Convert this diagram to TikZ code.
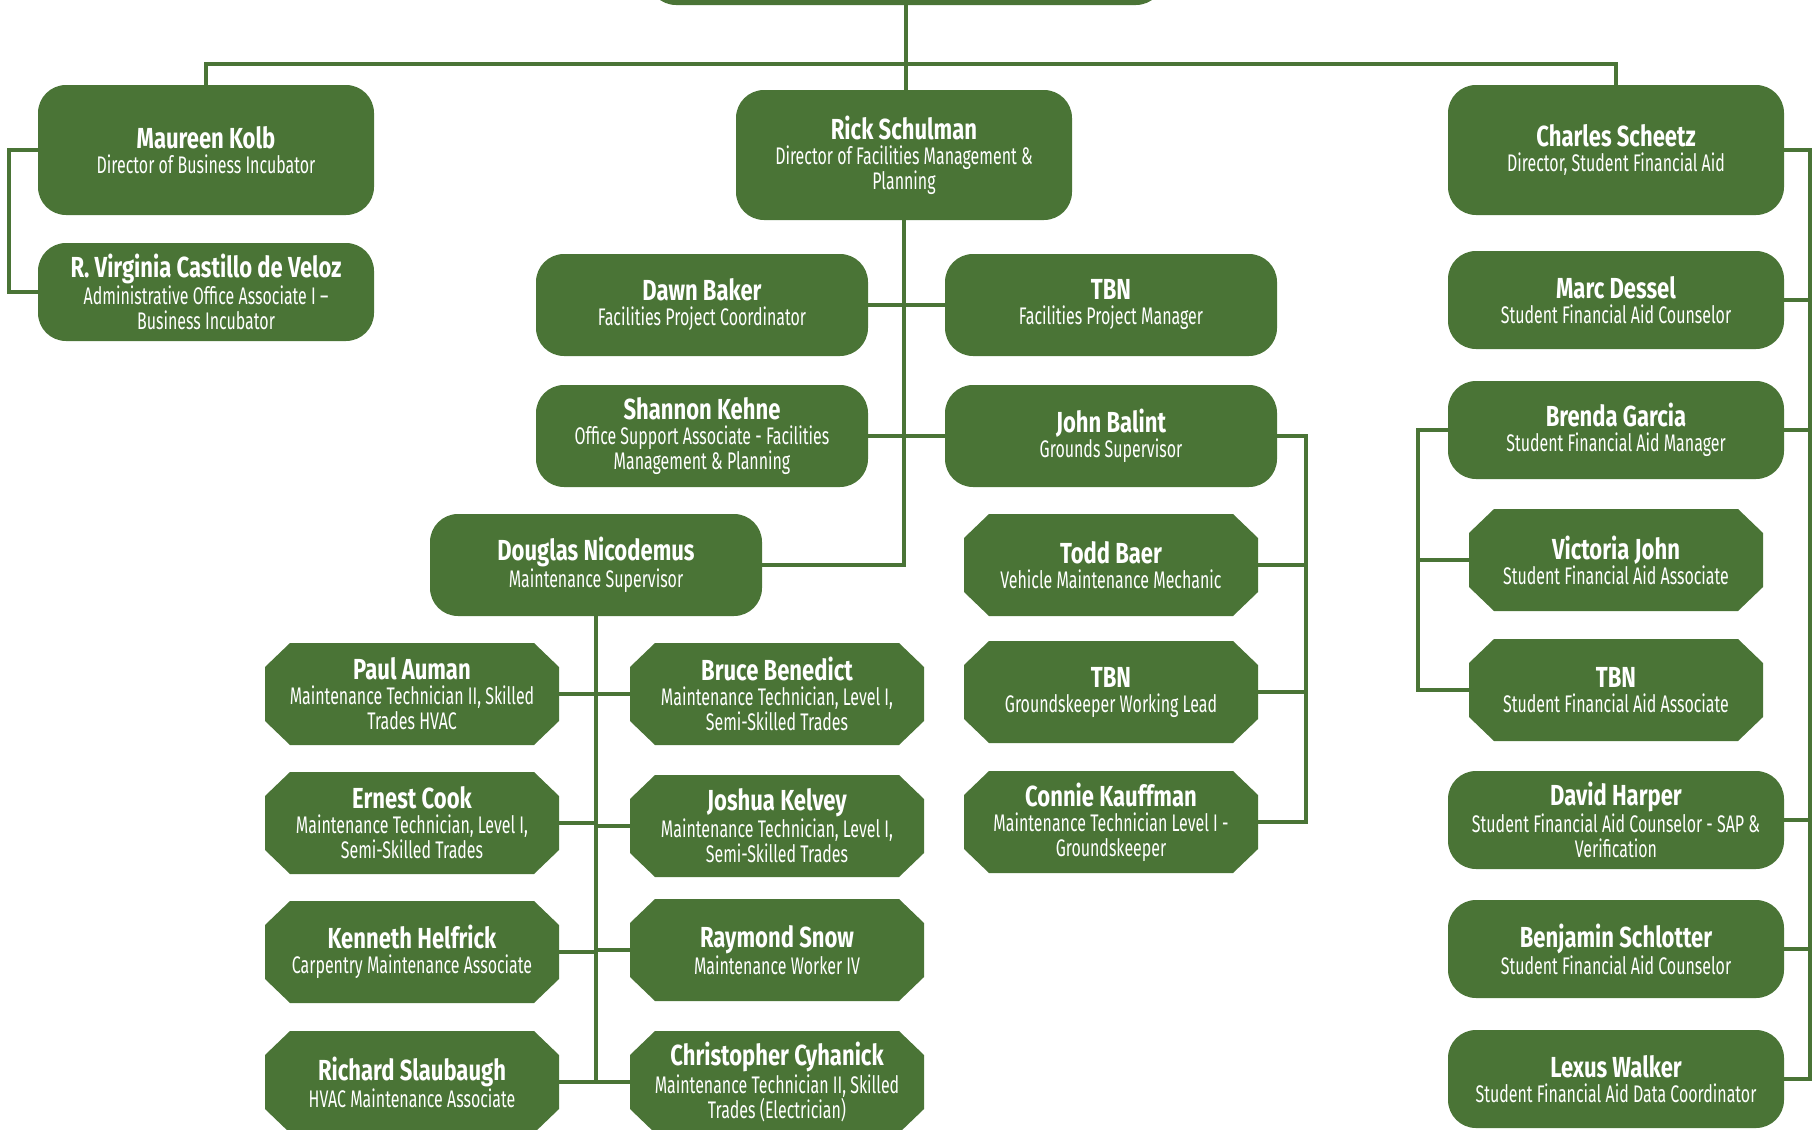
\documentclass[tikz,border=0pt]{standalone}
\usepackage{fontspec}
\setmainfont{Fira Sans}[FakeStretch=0.665]
\newfontfamily\namefont{Fira Sans}[FakeStretch=0.76]
\definecolor{leaf}{RGB}{74,116,54}
\newcommand{\nm}{\namefont\fontsize{14.5}{16}\selectfont\bfseries}
\tikzset{
  card/.style={fill=leaf, text=white, align=center, inner sep=2pt, minimum width=168pt, minimum height=50pt, font=\fontsize{12}{12.5}\selectfont},
  roundcard/.style={card, rounded corners=14pt},
  cutcard/.style={card, fill=none, minimum width=147pt, minimum height=51pt,
    path picture={\fill[leaf] ([xshift=12.5pt]path picture bounding box.north west) -- ([xshift=-12.5pt]path picture bounding box.north east) -- ([yshift=-12pt]path picture bounding box.north east) -- ([yshift=12pt]path picture bounding box.south east) -- ([xshift=-12.5pt]path picture bounding box.south east) -- ([xshift=12.5pt]path picture bounding box.south west) -- ([yshift=12pt]path picture bounding box.south west) -- ([yshift=-12pt]path picture bounding box.north west) -- cycle;}},
  link/.style={draw=leaf, line width=2pt}
}
\begin{document}
\begin{tikzpicture}[x=0.5pt, y=-0.5pt]
\useasboundingbox (0,0) rectangle (1816,1130);
\node[roundcard, minimum width=258pt] (top) at (906,-45) {};
\node[roundcard, minimum height=65pt] (maureen) at (206,150) {{\nm Maureen Kolb}\\ Director of Business Incubator};
\node[roundcard, minimum height=65pt] (rick) at (904,155) {{\nm Rick Schulman}\\ Director of Facilities Management \&\\ Planning};
\node[roundcard, minimum height=65pt] (charles) at (1616,150) {{\nm Charles Scheetz}\\ Director, Student Financial Aid};
\node[roundcard, minimum height=49pt] (virginia) at (206,292) {{\nm R. Virginia Castillo de Veloz}\\ Administrative Office Associate I --\\ Business Incubator};
\node[roundcard, minimum width=166pt, minimum height=51pt] (dawn) at (702,305) {{\nm Dawn Baker}\\ Facilities Project Coordinator};
\node[roundcard, minimum width=166pt, minimum height=51pt] (tbnfpm) at (1111,305) {{\nm TBN}\\ Facilities Project Manager};
\node[roundcard, minimum width=166pt, minimum height=51pt] (shannon) at (702,436) {{\nm Shannon Kehne}\\ Office Support Associate - Facilities\\ Management \& Planning};
\node[roundcard, minimum width=166pt, minimum height=51pt] (john) at (1111,436) {{\nm John Balint}\\ Grounds Supervisor};
\node[roundcard, minimum height=49pt] (marc) at (1616,300) {{\nm Marc Dessel}\\ Student Financial Aid Counselor};
\node[roundcard, minimum height=49pt] (brenda) at (1616,430) {{\nm Brenda Garcia}\\ Student Financial Aid Manager};
\node[roundcard, minimum width=166pt, minimum height=51pt] (douglas) at (596,565) {{\nm Douglas Nicodemus}\\ Maintenance Supervisor};
\node[cutcard] (todd) at (1111,565) {{\nm Todd Baer}\\ Vehicle Maintenance Mechanic};
\node[cutcard] (tbngwl) at (1111,692) {{\nm TBN}\\ Groundskeeper Working Lead};
\node[cutcard] (connie) at (1111,822) {{\nm Connie Kauffman}\\ Maintenance Technician Level I -\\ Groundskeeper};
\node[cutcard] (victoria) at (1616,560) {{\nm Victoria John}\\ Student Financial Aid Associate};
\node[cutcard] (tbnsfa) at (1616,690) {{\nm TBN}\\ Student Financial Aid Associate};
\node[roundcard, minimum height=49pt] (david) at (1616,820) {{\nm David Harper}\\ Student Financial Aid Counselor - SAP \&\\ Verification};
\node[roundcard, minimum height=49pt] (benjamin) at (1616,949) {{\nm Benjamin Schlotter}\\ Student Financial Aid Counselor};
\node[roundcard, minimum height=49pt] (lexus) at (1616,1079) {{\nm Lexus Walker}\\ Student Financial Aid Data Coordinator};
\node[cutcard] (paul) at (412,694) {{\nm Paul Auman}\\ Maintenance Technician II, Skilled\\ Trades HVAC};
\node[cutcard] (bruce) at (777,694) {{\nm Bruce Benedict}\\ Maintenance Technician, Level I,\\ Semi-Skilled Trades};
\node[cutcard] (ernest) at (412,823) {{\nm Ernest Cook}\\ Maintenance Technician, Level I,\\ Semi-Skilled Trades};
\node[cutcard] (joshua) at (777,826) {{\nm Joshua Kelvey}\\ Maintenance Technician, Level I,\\ Semi-Skilled Trades};
\node[cutcard] (kenneth) at (412,952) {{\nm Kenneth Helfrick}\\ Carpentry Maintenance Associate};
\node[cutcard] (raymond) at (777,950) {{\nm Raymond Snow}\\ Maintenance Worker IV};
\node[cutcard] (richard) at (412,1082) {{\nm Richard Slaubaugh}\\ HVAC Maintenance Associate};
\node[cutcard] (christopher) at (777,1082) {{\nm Christopher Cyhanick}\\ Maintenance Technician II, Skilled\\ Trades (Electrician)};
\coordinate (bus) at (906,64);
\coordinate (jx) at (1306,436);
\coordinate (bx) at (1418,430);
\coordinate (cx) at (1810,150);
\draw[link] (top.south) -- (top.south |- rick.north);
\draw[link] (maureen.north) |- (bus) -| (charles.north);
\draw[link] (maureen.west) -- ++(-29,0) |- (virginia.west);
\draw[link] (rick.south) |- (douglas.east);
\draw[link] (dawn.east) -- (tbnfpm.west);
\draw[link] (shannon.east) -- (john.west);
\draw[link] (john.east) -- (jx) |- (connie.east);
\draw[link] (todd.east) -- (todd.east -| jx);
\draw[link] (tbngwl.east) -- (tbngwl.east -| jx);
\draw[link] (brenda.west) -- (bx) |- (tbnsfa.west);
\draw[link] (victoria.west) -- (victoria.west -| bx);
\draw[link] (charles.east) -- (cx) |- (lexus.east);
\draw[link] (marc.east) -- (marc.east -| cx);
\draw[link] (brenda.east) -- (brenda.east -| cx);
\draw[link] (david.east) -- (david.east -| cx);
\draw[link] (benjamin.east) -- (benjamin.east -| cx);
\draw[link] (douglas.south) -- (douglas.south |- richard.east);
\draw[link] (paul.east) -- (paul.east -| douglas.south);
\draw[link] (ernest.east) -- (ernest.east -| douglas.south);
\draw[link] (kenneth.east) -- (kenneth.east -| douglas.south);
\draw[link] (richard.east) -- (richard.east -| douglas.south);
\draw[link] (bruce.west) -- (bruce.west -| douglas.south);
\draw[link] (joshua.west) -- (joshua.west -| douglas.south);
\draw[link] (raymond.west) -- (raymond.west -| douglas.south);
\draw[link] (christopher.west) -- (christopher.west -| douglas.south);
\end{tikzpicture}
\end{document}
